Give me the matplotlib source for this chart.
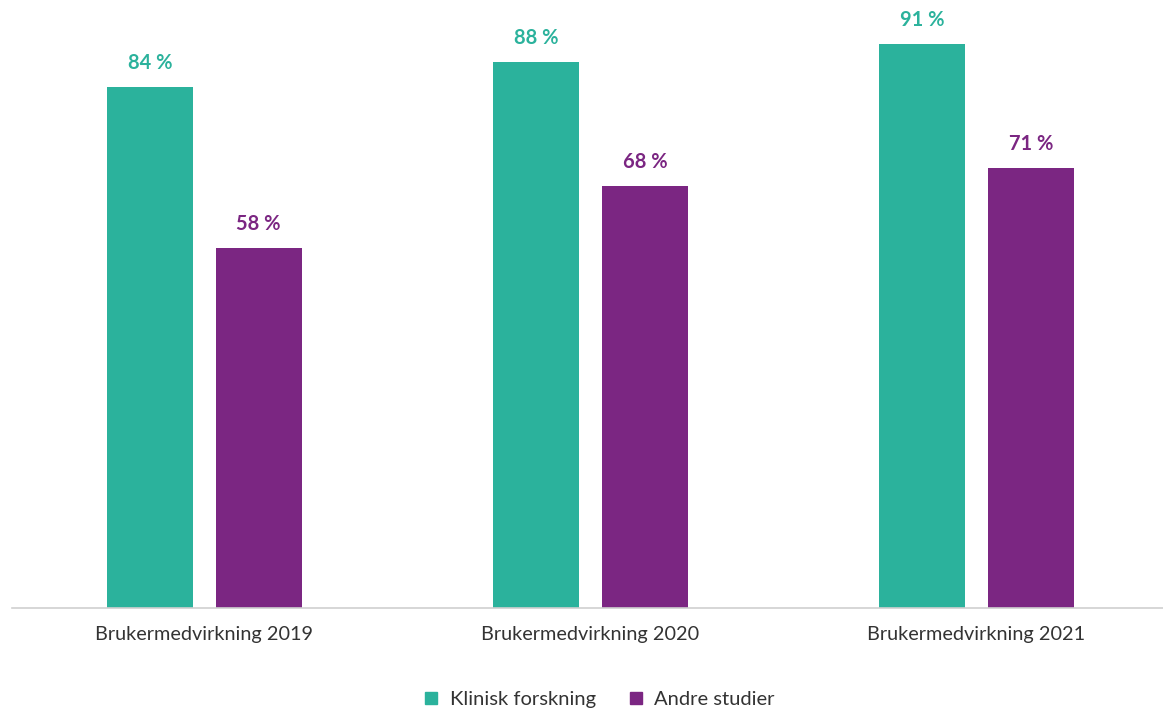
import numpy as np
import matplotlib.pyplot as plt
from matplotlib.lines import Line2D

categories = ['Brukermedvirkning 2019', 'Brukermedvirkning 2020', 'Brukermedvirkning 2021']
klinisk = [84, 88, 91]
andre = [58, 68, 71]
series_names = ['Klinisk forskning', 'Andre studier']

teal = '#2BB29C'
purple = '#7B2682'
plt.rcParams['font.family'] = ['Lato', 'DejaVu Sans']

fig = plt.figure(figsize=(11.63, 7.08), dpi=100)
ax = fig.add_axes([12 / 1163, 1 - 608 / 708, 1 - 12 / 1163, 608 / 708])

x = np.arange(len(categories))
w = 0.223
off = 0.141
b1 = ax.bar(x - off, klinisk, w, color=teal)
b2 = ax.bar(x + off, andre, w, color=purple)

for bars, vals, c in [(b1, klinisk, teal), (b2, andre, purple)]:
    for r, v in zip(bars, vals):
        ax.annotate(f'{v} %', (r.get_x() + r.get_width() / 2, v),
                    xytext=(0, 10), textcoords='offset points',
                    ha='center', va='bottom', color=c, fontsize=14.5, fontweight='bold')

ax.set_xlim(-0.498, 2.483)
ax.set_ylim(0, 98.06)
ax.set_yticks([])
ax.set_xticks(x)
ax.set_xticklabels(categories, fontsize=14.3, color='#333333')
ax.tick_params(axis='x', length=0, pad=13)
for s in ['top', 'right', 'left']:
    ax.spines[s].set_visible(False)
ax.spines['bottom'].set_color('#d0d0d0')
ax.spines['bottom'].set_linewidth(1.2)

handles = [Line2D([], [], marker='s', ls='', color=teal, markersize=8),
           Line2D([], [], marker='s', ls='', color=purple, markersize=8)]
fig.legend(handles, series_names, loc='lower center', bbox_to_anchor=(0.515, -0.025),
           ncol=2, frameon=False, fontsize=14.5, handlelength=0.8, handletextpad=0.5,
           columnspacing=1.6, labelcolor='#333333')

fig.savefig('out.png', dpi=100)
